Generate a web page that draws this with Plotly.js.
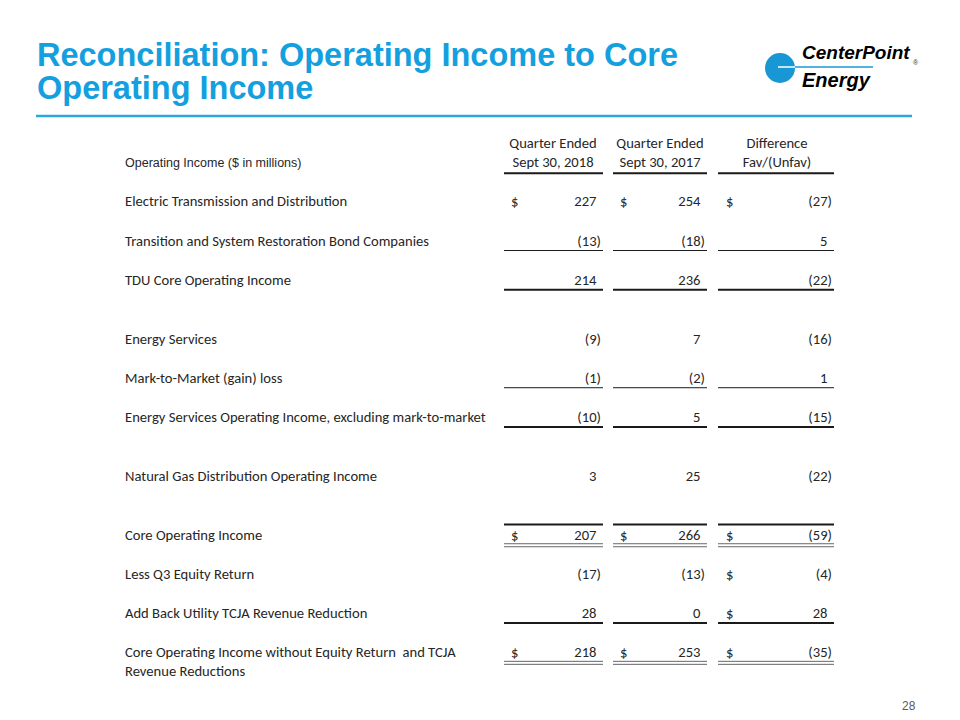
<!DOCTYPE html>
<html>
<head>
<meta charset="utf-8">
<script src="https://cdn.plot.ly/plotly-3.0.1.min.js"></script>
<style>html,body{margin:0;padding:0;background:#fff;}#chart{width:960px;height:720px;}</style>
</head>
<body>
<div id="chart"></div>
<script>
// ---------------- DATA ----------------
const slideTitle = ["Reconciliation: Operating Income to Core", "Operating Income"];
const tableHeading = "Operating Income ($ in millions)";
const colHeadTop = ["Quarter Ended", "Quarter Ended", "Difference"];
const colHeadBottom = ["Sept 30, 2018", "Sept 30, 2017", "Fav/(Unfav)"];
const rowLabels = [
  "Electric Transmission and Distribution",
  "Transition and System Restoration Bond Companies",
  "TDU Core Operating Income",
  "Energy Services",
  "Mark-to-Market (gain) loss",
  "Energy Services Operating Income, excluding mark-to-market",
  "Natural Gas Distribution Operating Income",
  "Core Operating Income",
  "Less Q3 Equity Return",
  "Add Back Utility TCJA Revenue Reduction",
  "Core Operating Income without Equity Return  and TCJA<br>Revenue Reductions"
];
const q3_2018 = [227, -13, 214, -9, -1, -10, 3, 207, -17, 28, 218];
const q3_2017 = [254, -18, 236, 7, -2, 5, 25, 266, -13, 0, 253];
const difference = [-27, 5, -22, -16, 1, -15, -22, -59, -4, 28, -35];
const dollar2018 = [true, false, false, false, false, false, false, true, false, false, true];
const dollar2017 = [true, false, false, false, false, false, false, true, false, false, true];
const dollarDiff = [true, false, false, false, false, false, false, true, true, true, true];
const pageNumber = "28";

// ---------------- LAYOUT CONSTANTS ----------------
const Y0 = 163.5, U = 39.2;             // row unit mapping
const rowPos = [1, 2, 3, 4.5, 5.5, 6.5, 8, 9.5, 10.5, 11.5, 12.5];
const labelX = 125;
const colLeft = [504, 613, 718];
const colRight = [603, 707, 834];
const dollarX = [511, 620, 726];
const numRight = [601, 705, 832];
const parenW = 4.5;
const colCenter = [553, 660, 777];
const textColor = "#262626";
const bodyFont = "Carlito, Lato, 'Open Sans', sans-serif";
const bodySize = 14.6;
const blue = "#14a0de";

const cols = [q3_2018, q3_2017, difference];
const dollars = [dollar2018, dollar2017, dollarDiff];

function fmt(v) { return v < 0 ? "(" + Math.abs(v) + ")" : String(v); }

const traces = [];
// row labels
traces.push({
  type: "scatter", mode: "text", hoverinfo: "skip", showlegend: false, cliponaxis: false,
  x: rowLabels.map(() => labelX),
  y: rowPos.map((r, i) => i === rowLabels.length - 1 ? r + 0.24 : r),
  text: rowLabels, textposition: "middle right",
  textfont: {family: bodyFont, size: bodySize, color: textColor}
});
// heading
traces.push({
  type: "scatter", mode: "text", hoverinfo: "skip", showlegend: false, cliponaxis: false,
  x: [labelX], y: [0], text: [tableHeading], textposition: "middle right",
  textfont: {family: "'Liberation Sans', Arial, sans-serif", size: 12.5, color: textColor}
});
// column headers
traces.push({
  type: "scatter", mode: "text", hoverinfo: "skip", showlegend: false, cliponaxis: false,
  x: colCenter.concat(colCenter), y: colCenter.map(() => -0.5).concat(colCenter.map(() => 0)),
  text: colHeadTop.concat(colHeadBottom), textposition: "middle center",
  textfont: {family: bodyFont, size: bodySize, color: textColor}
});
// values
cols.forEach((vals, c) => {
  const neg = [], pos = [];
  vals.forEach((v, i) => { (v < 0 ? neg : pos).push(i); });
  traces.push({
    type: "scatter", mode: "text", hoverinfo: "skip", showlegend: false, cliponaxis: false,
    x: neg.map(() => numRight[c]), y: neg.map(i => rowPos[i]), text: neg.map(i => fmt(vals[i])),
    textposition: "middle left", textfont: {family: bodyFont, size: bodySize, color: textColor}
  });
  traces.push({
    type: "scatter", mode: "text", hoverinfo: "skip", showlegend: false, cliponaxis: false,
    x: pos.map(() => numRight[c] - parenW), y: pos.map(i => rowPos[i]), text: pos.map(i => fmt(vals[i])),
    textposition: "middle left", textfont: {family: bodyFont, size: bodySize, color: textColor}
  });
  const ds = dollars[c].map((d, i) => d ? i : -1).filter(i => i >= 0);
  traces.push({
    type: "scatter", mode: "text", hoverinfo: "skip", showlegend: false, cliponaxis: false,
    x: ds.map(() => dollarX[c]), y: ds.map(i => rowPos[i]), text: ds.map(() => "$"),
    textposition: "middle right", textfont: {family: bodyFont, size: bodySize, color: textColor}
  });
});

// rules
const shapes = [];
function rule(yr, w, color) {
  for (let c = 0; c < 3; c++) {
    shapes.push({type: "line", xref: "x", yref: "y", x0: colLeft[c], x1: colRight[c], y0: yr, y1: yr,
      line: {color: color || "#1a1a1a", width: w}});
  }
}
function dbl(yr) { rule(yr, 1, "#666"); rule(yr + 3 / U, 1, "#666"); }
const off = 0.22;
rule(0 + 0.25, 2);                // header underline
rule(rowPos[1] + off, 1);         // transition
rule(rowPos[2] + off, 2);         // TDU
rule(rowPos[4] + off, 1);         // MTM
rule(rowPos[5] + off, 2);         // ES excl
rule(rowPos[7] - 0.29, 2);        // Core top
dbl(rowPos[7] + 0.2);             // Core double
rule(rowPos[9] + off, 2);         // Add back
dbl(rowPos[10] + 0.2);            // Core w/o double

// decorative (paper coords)
const px = x => x / 960, py = y => 1 - y / 720;
shapes.push({type: "line", xref: "paper", yref: "paper", x0: px(36), x1: px(912), y0: py(116), y1: py(116),
  line: {color: "#2aa8de", width: 2.5}});
shapes.push({type: "circle", xref: "paper", yref: "paper", x0: px(765), x1: px(795), y0: py(83), y1: py(53),
  fillcolor: "#1797d4", line: {width: 0}});
shapes.push({type: "line", xref: "paper", yref: "paper", x0: px(778), x1: px(795), y0: py(67), y1: py(67),
  line: {color: "#ffffff", width: 1.5}});
shapes.push({type: "line", xref: "paper", yref: "paper", x0: px(795), x1: px(873), y0: py(67), y1: py(67),
  line: {color: "#1797d4", width: 1.5}});

const annotations = [
  {xref: "paper", yref: "paper", x: px(35), y: py(55), xanchor: "left", yanchor: "middle", showarrow: false,
    text: "<b>" + slideTitle[0] + "</b>", font: {family: "'Liberation Sans', Arial, sans-serif", size: 32.5, color: blue}},
  {xref: "paper", yref: "paper", x: px(35), y: py(88), xanchor: "left", yanchor: "middle", showarrow: false,
    text: "<b>" + slideTitle[1] + "</b>", font: {family: "'Liberation Sans', Arial, sans-serif", size: 32.5, color: blue}},
  {xref: "paper", yref: "paper", x: px(800), y: py(53), xanchor: "left", yanchor: "middle", showarrow: false,
    text: "<b><i>CenterPoint</i></b>", font: {family: "'Liberation Sans', Arial, sans-serif", size: 19, color: "#000"}},
  {xref: "paper", yref: "paper", x: px(800), y: py(80), xanchor: "left", yanchor: "middle", showarrow: false,
    text: "<b><i>Energy</i></b>", font: {family: "'Liberation Sans', Arial, sans-serif", size: 20, color: "#000"}},
  {xref: "paper", yref: "paper", x: px(916), y: py(62), xanchor: "center", yanchor: "middle", showarrow: false,
    text: "®", font: {family: "'Liberation Sans', Arial, sans-serif", size: 7, color: "#333"}},
  {xref: "paper", yref: "paper", x: px(918), y: py(706), xanchor: "right", yanchor: "middle", showarrow: false,
    text: pageNumber, font: {family: "'Liberation Sans', Arial, sans-serif", size: 12, color: "#595959"}}
];

const layout = {
  width: 960, height: 720,
  margin: {l: 0, r: 0, t: 0, b: 0},
  paper_bgcolor: "#ffffff", plot_bgcolor: "#ffffff",
  showlegend: false, hovermode: false,
  xaxis: {range: [0, 960], visible: false, fixedrange: true},
  yaxis: {range: [(720 - Y0) / U, -Y0 / U], visible: false, fixedrange: true},
  shapes: shapes, annotations: annotations
};

Plotly.newPlot("chart", traces, layout, {displayModeBar: false, staticPlot: true});
</script>
</body>
</html>
